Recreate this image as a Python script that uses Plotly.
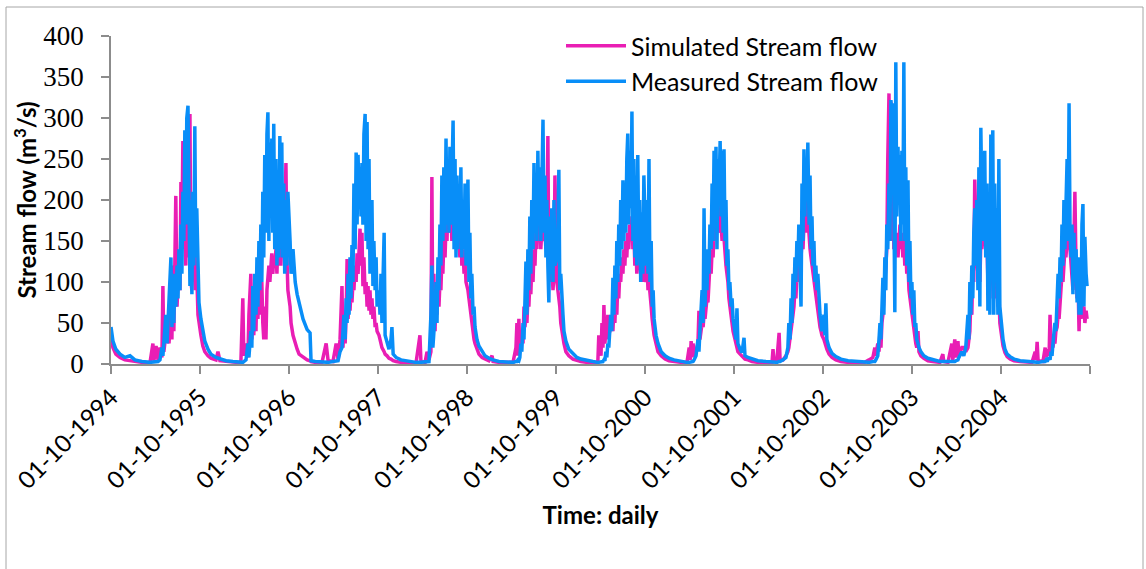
import pandas as pd
import plotly.graph_objects as go

# Daily stream flow, sampled through each water year (Oct 1 -> Sep 30).
# Each record: (days since 1 October, measured m3/s, simulated m3/s)
wy1994 = [(0,45,30),(8,28,20),(20,18,12),(37,12,8),(57,8,5),(78,10,4),(98,5,3),(127,3,2),(160,2,1.5),(172,2,25),(176,2,4),(185,3,22),(193,3,5),(201,5,20),(209,20,8),(213,10,95),(217,30,15),(225,60,35),(230,25,50),(238,70,25),(246,130,60),(250,45,30),(254,95,120),(258,50,40),(262,110,150),(266,70,205),(271,120,70),(275,80,110),(279,140,130),(283,90,90),(287,170,222),(291,110,150),(295,210,272),(299,150,140),(303,285,200),(307,170,120),(311,300,210),(316,315,130),(320,150,150),(324,95,305),(328,200,100),(332,85,90),(336,210,180),(340,120,100),(344,290,150),(348,130,90),(352,190,110),(357,90,60),(361,75,50)]
wy1995 = [(4,55,35),(12,40,22),(20,28,15),(33,18,10),(45,12,7),(66,8,5),(74,7,15),(82,6,4),(107,4,3),(135,3,2),(168,2,1.5),(176,2,80),(180,3,10),(189,5,25),(197,25,8),(201,8,60),(209,40,110),(213,20,30),(217,95,50),(221,40,35),(225,110,80),(230,60,40),(234,130,100),(238,70,55),(242,150,90),(246,90,145),(250,170,60),(254,100,100),(258,210,50),(262,130,30),(266,255,70),(271,160,30),(275,280,90),(279,307,110),(283,150,120),(287,270,100),(291,180,115),(295,275,135),(299,160,110),(303,293,130),(307,140,120),(312,250,140),(316,120,110),(320,230,150),(324,130,120),(328,278,140),(332,140,120),(336,270,150),(340,130,130),(344,220,140),(348,110,170),(353,200,245),(357,120,130),(361,210,90)]
wy1996 = [(4,150,70),(8,110,50),(16,140,35),(25,100,25),(33,85,18),(41,75,12),(49,62,10),(57,55,8),(66,48,6),(74,42,5),(86,38,4),(90,4,3),(107,3,2),(135,2,2),(152,2,25),(160,2,4),(180,3,3),(193,3,25),(201,4,5),(209,15,30),(217,20,95),(221,40,20),(225,60,50),(230,30,25),(234,80,60),(238,50,128),(242,110,55),(246,60,80),(250,130,65),(254,80,90),(258,145,75),(262,100,100),(266,220,90),(271,140,120),(275,258,100),(279,170,135),(283,255,110),(287,200,140),(291,240,165),(295,180,120),(299,245,160),(303,170,95),(307,280,130),(312,305,85),(316,150,100),(320,295,70),(324,140,95),(328,250,65),(332,110,90),(336,180,60),(340,200,80),(344,95,55),(348,150,70),(353,90,45),(357,130,50),(361,70,40)]
wy1997 = [(4,90,35),(8,60,30),(12,110,25),(16,50,20),(25,160,15),(29,35,12),(37,25,10),(45,18,7),(53,30,6),(57,45,5),(62,12,4),(74,8,3),(94,5,2),(127,3,1.5),(156,2,1.5),(172,2,35),(176,2,3),(193,2,2),(201,3,15),(209,3,5),(217,60,15),(221,120,228),(225,20,30),(229,35,110),(234,60,40),(238,100,95),(242,50,60),(246,130,110),(250,90,70),(254,170,100),(258,120,90),(262,230,130),(266,150,110),(270,240,150),(275,160,130),(279,275,170),(283,170,150),(287,250,200),(291,160,250),(295,265,160),(299,170,190),(303,225,150),(308,297,180),(312,140,160),(316,250,150),(320,130,170),(324,230,140),(328,140,160),(332,200,150),(336,160,130),(340,240,170),(344,130,120),(349,200,140),(353,140,110),(357,220,130),(361,120,100)]
wy1998 = [(4,225,90),(8,100,80),(12,160,70),(16,80,55),(20,110,45),(25,60,40),(29,70,30),(33,45,25),(41,30,18),(49,22,12),(62,15,8),(74,10,6),(90,7,4),(103,5,10),(107,5,3),(131,3,2),(160,2,1.5),(189,2,2),(201,3,20),(205,3,50),(209,5,10),(213,4,55),(217,8,15),(221,25,30),(225,15,40),(230,50,25),(234,30,70),(238,90,45),(242,125,60),(246,60,50),(250,140,80),(254,90,70),(258,180,100),(262,110,85),(266,200,120),(271,140,100),(275,245,140),(279,160,120),(283,220,160),(287,150,140),(291,260,180),(295,180,150),(299,240,200),(303,150,140),(308,250,180),(312,298,190),(316,160,150),(320,230,160),(324,130,140),(328,200,150),(332,120,278),(336,75,110),(340,180,130),(344,110,100),(348,190,120),(353,100,90),(357,200,110),(361,120,230)]
wy1999 = [(4,130,100),(8,160,90),(12,237,80),(16,90,70),(20,110,50),(25,70,40),(29,60,30),(33,40,25),(41,28,15),(53,18,10),(70,12,6),(86,8,4),(103,6,3),(127,4,2),(152,3,1.5),(172,2,2),(176,2,35),(185,2,10),(189,3,50),(193,3,20),(197,5,72),(201,4,25),(205,15,40),(209,8,30),(213,25,60),(217,20,35),(225,60,45),(229,40,55),(234,105,40),(238,60,70),(242,120,50),(246,80,80),(250,150,60),(254,100,100),(258,170,80),(262,120,110),(266,200,100),(271,140,130),(275,224,110),(279,150,140),(283,215,120),(287,160,150),(291,250,130),(295,281,160),(299,170,140),(303,260,170),(308,190,150),(312,308,180),(316,150,140),(320,250,160),(324,130,120),(328,230,150),(332,120,110),(336,255,160),(340,140,190),(344,200,130),(348,100,110),(353,185,140),(357,110,100),(361,230,130)]
wy2000 = [(4,120,100),(8,200,120),(12,110,90),(16,250,100),(20,100,80),(25,150,70),(29,70,55),(33,90,45),(37,55,35),(45,35,25),(53,25,15),(66,15,10),(82,10,6),(98,7,4),(119,5,3),(148,3,2),(172,2,2),(181,2,20),(185,2,5),(189,3,28),(193,3,8),(197,3,25),(201,5,10),(209,10,15),(217,30,25),(221,15,65),(225,40,30),(230,60,40),(234,90,50),(238,50,45),(242,190,60),(246,70,55),(250,120,70),(254,90,80),(258,140,75),(262,110,100),(266,170,120),(271,140,110),(275,220,140),(279,150,130),(283,260,160),(287,200,150),(291,265,180),(295,140,170),(299,250,200),(303,200,160),(308,272,190),(312,180,170),(316,260,150),(320,160,170),(324,262,150),(328,150,140),(332,200,120),(336,120,110),(340,140,100),(344,90,80),(348,100,70),(353,70,60),(357,80,45),(361,55,40)]
wy2001 = [(4,40,30),(8,30,25),(12,68,20),(16,25,15),(25,18,12),(33,14,9),(41,32,7),(45,10,6),(57,8,5),(74,6,3),(98,4,2),(131,3,2),(156,2,2),(160,2,18),(164,2,3),(176,2,5),(185,3,38),(189,3,5),(201,5,5),(213,8,10),(221,20,15),(225,50,20),(230,30,30),(234,80,40),(238,50,50),(242,110,60),(246,80,70),(250,130,90),(254,100,80),(258,150,110),(262,120,100),(266,170,130),(271,110,120),(275,70,130),(279,220,150),(283,150,140),(287,262,170),(291,180,190),(295,250,160),(299,200,200),(303,270,180),(308,170,150),(312,230,140),(316,140,130),(320,180,120),(324,120,110),(328,150,100),(332,100,90),(336,120,80),(340,90,70),(344,110,60),(349,70,55),(353,60,45),(357,50,40),(361,40,35)]
wy2002 = [(4,60,30),(8,35,25),(12,74,20),(16,30,18),(25,20,12),(37,13,8),(53,9,5),(74,6,3),(103,4,2),(135,3,2),(168,2,1.5),(189,2,5),(205,3,8),(213,3,20),(217,5,10),(225,10,25),(230,30,15),(234,50,40),(238,30,20),(242,80,50),(246,105,60),(250,60,80),(254,130,100),(258,90,120),(262,170,140),(266,140,250),(271,220,330),(275,150,200),(279,322,320),(283,250,150),(287,318,260),(291,200,140),(295,63,150),(299,368,140),(303,180,160),(308,265,130),(312,200,150),(316,255,170),(320,150,140),(324,260,160),(328,170,130),(332,368,150),(336,150,120),(340,240,140),(344,120,110),(349,224,120),(353,100,90),(357,150,80),(361,80,70)]
wy2003 = [(0,100,60),(4,60,50),(8,90,40),(12,45,35),(16,50,25),(20,30,20),(25,25,40),(29,20,15),(37,15,10),(49,10,7),(66,7,4),(86,5,3),(115,3,2),(127,3,12),(131,3,3),(148,2,2),(164,2,25),(168,3,5),(176,3,30),(181,4,8),(189,5,28),(193,8,10),(205,15,20),(213,10,20),(221,20,15),(230,60,20),(234,30,30),(238,100,40),(242,60,80),(246,120,60),(250,80,120),(254,160,100),(258,190,225),(262,120,150),(266,200,130),(271,90,110),(275,240,120),(279,70,100),(283,288,150),(287,200,140),(291,258,160),(295,150,150),(299,260,170),(303,130,140),(308,220,150),(312,65,100),(316,200,120),(320,60,80),(324,280,150),(328,120,110),(332,285,140),(336,60,90),(340,220,120),(344,100,80),(348,190,100),(353,60,70),(357,250,90),(361,70,50)]
wy2004 = [(0,50,40),(4,45,35),(8,30,22),(16,18,14),(25,12,9),(37,9,6),(53,6,4),(78,4,3),(107,3,2),(127,2,2),(140,2,15),(144,2,5),(148,2,27),(152,2,4),(172,3,3),(181,3,20),(185,5,8),(189,3,18),(197,8,10),(201,5,60),(205,15,15),(209,10,25),(213,25,20),(217,35,30),(221,50,25),(225,40,40),(230,85,45),(234,110,60),(238,80,55),(242,130,80),(246,100,90),(250,170,110),(254,120,100),(258,200,120),(262,140,140),(266,180,130),(271,250,150),(275,150,140),(279,318,160),(283,165,140),(287,130,120),(291,170,100),(295,85,90),(299,160,150),(303,100,210),(308,140,110),(312,75,80),(316,130,100),(320,60,40),(324,110,90),(328,60,55),(332,170,80),(336,195,60),(340,70,70),(344,155,50),(349,110,65),(353,95,55)]

water_years = {1994: wy1994, 1995: wy1995, 1996: wy1996, 1997: wy1997,
               1998: wy1998, 1999: wy1999, 2000: wy2000, 2001: wy2001,
               2002: wy2002, 2003: wy2003, 2004: wy2004}

label_years = list(range(1994, 2005))
tick_labels = [f"01-10-{y}" for y in label_years]
axis_end = "2005-10-01"

dates, measured, simulated = [], [], []
for start_year, records in water_years.items():
    origin = pd.Timestamp(f"{start_year}-10-01")
    for day, m, s in records:
        dates.append(origin + pd.Timedelta(days=day))
        measured.append(m)
        simulated.append(s)

PINK = "#E91EB4"
BLUE = "#088EF8"
AXIS = "#8C8C8C"
SANS = "Lato"

fig = go.Figure()
fig.add_trace(go.Scatter(x=dates, y=simulated, mode="lines",
                         name="Simulated Stream flow",
                         line=dict(color=PINK, width=3.5)))
fig.add_trace(go.Scatter(x=dates, y=measured, mode="lines",
                         name="Measured Stream flow",
                         line=dict(color=BLUE, width=3.5)))

L, R, T, B = 111, 56, 36, 205
W, H = 1146, 569
pw, ph = W - L - R, H - T - B

def px_x(p):
    return (p - L) / pw

def px_y(p):
    return (H - B - p) / ph

fig.update_layout(
    width=W, height=H,
    margin=dict(l=L, r=R, t=T, b=B, autoexpand=False),
    paper_bgcolor="white", plot_bgcolor="white",
    showlegend=True,
    legend=dict(x=px_x(561), y=px_y(23), xanchor="left", yanchor="top",
                font=dict(family=SANS, size=25, color="black"),
                bgcolor="rgba(0,0,0,0)", itemwidth=60, tracegroupgap=0),
    xaxis=dict(type="date",
               range=[f"{label_years[0]}-10-01", axis_end],
               tickmode="array",
               tickvals=[f"{y}-10-01" for y in label_years],
               ticktext=tick_labels,
               tickangle=-45,
               tickfont=dict(family=SANS, size=24, color="black"),
               ticks="outside", ticklen=8, tickwidth=1.5, tickcolor=AXIS,
               minor=dict(tick0=f"{label_years[0]}-10-01", dtick="M12",
                          ticks="outside", ticklen=8, tickwidth=1.5,
                          tickcolor=AXIS, showgrid=False),
               showline=True, linecolor=AXIS, linewidth=1.5,
               showgrid=False, zeroline=False,
               automargin=False,
               title=dict(text="<b>Time: daily</b>", standoff=14,
                          font=dict(family=SANS, size=24, color="black"))),
    yaxis=dict(range=[0, 400], tickmode="linear", tick0=0, dtick=50,
               tickfont=dict(family="Liberation Serif", size=27, color="black"),
               ticklabelstandoff=12,
               ticks="outside", ticklen=8, tickwidth=1.5, tickcolor=AXIS,
               showline=True, linecolor=AXIS, linewidth=1.5,
               showgrid=False, zeroline=False,
               automargin=False,
               title=dict(text="<b>Stream flow (m<sup>3</sup>/s)</b>", standoff=0,
                          font=dict(family=SANS, size=24, color="black"))),
    shapes=[dict(type="rect", xref="paper", yref="paper",
                 x0=px_x(6), x1=px_x(1143), y0=px_y(580), y1=px_y(7),
                 line=dict(color="#A6A6A6", width=1), layer="below")],
)

fig.write_html("out.html")
